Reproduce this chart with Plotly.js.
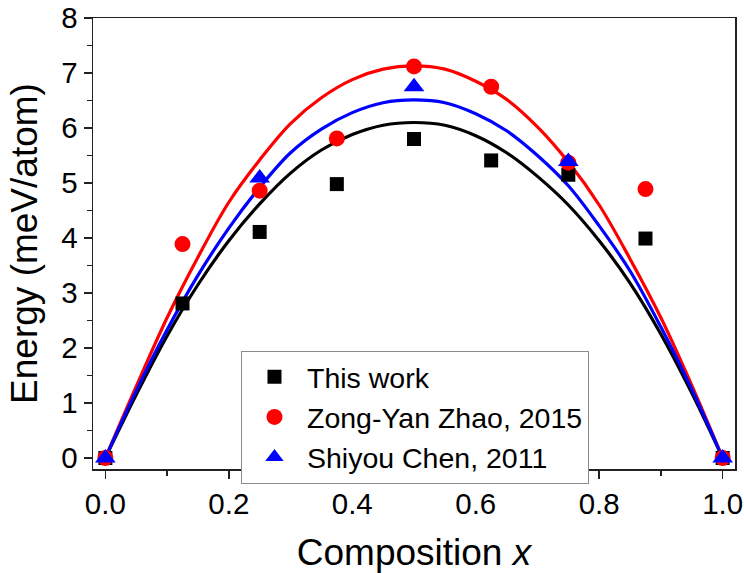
<!DOCTYPE html>
<html>
<head>
<meta charset="utf-8">
<script src="https://cdn.plot.ly/plotly-3.0.1.min.js"></script>
<style>
  html, body { margin: 0; padding: 0; background: #fff; }
  #chart { width: 744px; height: 573px; }
</style>
</head>
<body>
<div id="chart"></div>
<script>
// Measured data points
const compX = [0, 0.125, 0.25, 0.375, 0.5, 0.625, 0.75, 0.875, 1.0];
const thisWork = [0, 2.81, 4.11, 4.98, 5.80, 5.41, 5.15, 3.99, 0];
const zhao2015 = [0, 3.89, 4.86, 5.81, 7.12, 6.75, 5.37, 4.89, 0];
const chenX = [0, 0.25, 0.5, 0.75, 1.0];
const chen2011 = [0, 5.09, 6.75, 5.39, 0];

// Fitted curves
const fitX = [0, 0.05, 0.1, 0.15, 0.2, 0.25, 0.3, 0.35, 0.4, 0.45, 0.5, 0.55, 0.6, 0.65, 0.7, 0.75, 0.8, 0.85, 0.9, 0.95, 1.0];
const fitThisWork = [0, 1.15, 2.22, 3.15, 3.95, 4.62, 5.18, 5.60, 5.88, 6.05, 6.10, 6.05, 5.86, 5.55, 5.12, 4.60, 3.95, 3.18, 2.25, 1.18, 0];
const fitZhao = [0, 1.30, 2.55, 3.65, 4.65, 5.42, 6.08, 6.55, 6.88, 7.07, 7.13, 7.07, 6.85, 6.52, 6.02, 5.38, 4.60, 3.62, 2.55, 1.32, 0];
const fitChen = [0, 1.22, 2.33, 3.32, 4.18, 4.92, 5.55, 5.98, 6.28, 6.46, 6.51, 6.46, 6.26, 5.95, 5.50, 4.95, 4.22, 3.40, 2.38, 1.25, 0];

const names = ['This work', 'Zong-Yan Zhao, 2015', 'Shiyou Chen, 2011'];
const BLACK = '#000000', RED = '#ff0000', BLUE = '#0000ff';
const FONT = 'Liberation Sans, Arial, sans-serif';

const traces = [
  {x: fitX, y: fitThisWork, mode: 'lines', line: {color: BLACK, width: 3.2, shape: 'spline'}, showlegend: false, hoverinfo: 'skip'},
  {x: fitX, y: fitZhao, mode: 'lines', line: {color: RED, width: 3.2, shape: 'spline'}, showlegend: false, hoverinfo: 'skip'},
  {x: fitX, y: fitChen, mode: 'lines', line: {color: BLUE, width: 3.2, shape: 'spline'}, showlegend: false, hoverinfo: 'skip'},
  {x: compX, y: thisWork, mode: 'markers', name: names[0], marker: {symbol: 'square', size: 14, color: BLACK}},
  {x: compX, y: zhao2015, mode: 'markers', name: names[1], marker: {symbol: 'circle', size: 16, color: RED}},
  {x: chenX, y: chen2011, mode: 'markers', name: names[2], marker: {symbol: 'triangle-up', size: 18, color: BLUE}}
];

const layout = {
  width: 744, height: 573,
  margin: {l: 93, r: 9, t: 18, b: 104},
  paper_bgcolor: '#ffffff', plot_bgcolor: '#ffffff',
  font: {family: FONT, color: '#000', size: 29},
  showlegend: true,
  legend: {
    x: 0.2305, y: 0.262, xanchor: 'left', yanchor: 'top',
    bordercolor: '#8c8c8c', borderwidth: 1, bgcolor: '#ffffff',
    font: {family: FONT, size: 28.5, color: '#000'},
    itemwidth: 55, tracegroupgap: 0
  },
  xaxis: {
    range: [-0.02, 1.02], dtick: 0.2, tick0: 0, tickformat: '.1f',
    showgrid: false, zeroline: false,
    showline: true, linecolor: '#222', linewidth: 1.5, mirror: true,
    ticks: 'outside', ticklen: 8, tickwidth: 1.5, tickcolor: '#222',
    minor: {dtick: 0.1, ticks: 'outside', ticklen: 5, tickwidth: 1.5, tickcolor: '#222'},
    tickfont: {family: FONT, size: 29.5, color: '#000'},
    title: {text: 'Composition <i>x</i>', font: {family: FONT, size: 37, color: '#000'}, standoff: 21},
    automargin: false
  },
  yaxis: {
    range: [-0.2, 8], dtick: 1, tick0: 0,
    showgrid: false, zeroline: false,
    showline: true, linecolor: '#222', linewidth: 1.5, mirror: true,
    ticks: 'outside', ticklen: 8, tickwidth: 1.5, tickcolor: '#222',
    minor: {dtick: 0.5, ticks: 'outside', ticklen: 5, tickwidth: 1.5, tickcolor: '#222'},
    tickfont: {family: FONT, size: 29.5, color: '#000'},
    title: {text: 'Energy (meV/atom)', font: {family: FONT, size: 37, color: '#000'}, standoff: 12},
    automargin: false
  }
};

Plotly.newPlot('chart', traces, layout, {staticPlot: true, displayModeBar: false});
</script>
</body>
</html>
